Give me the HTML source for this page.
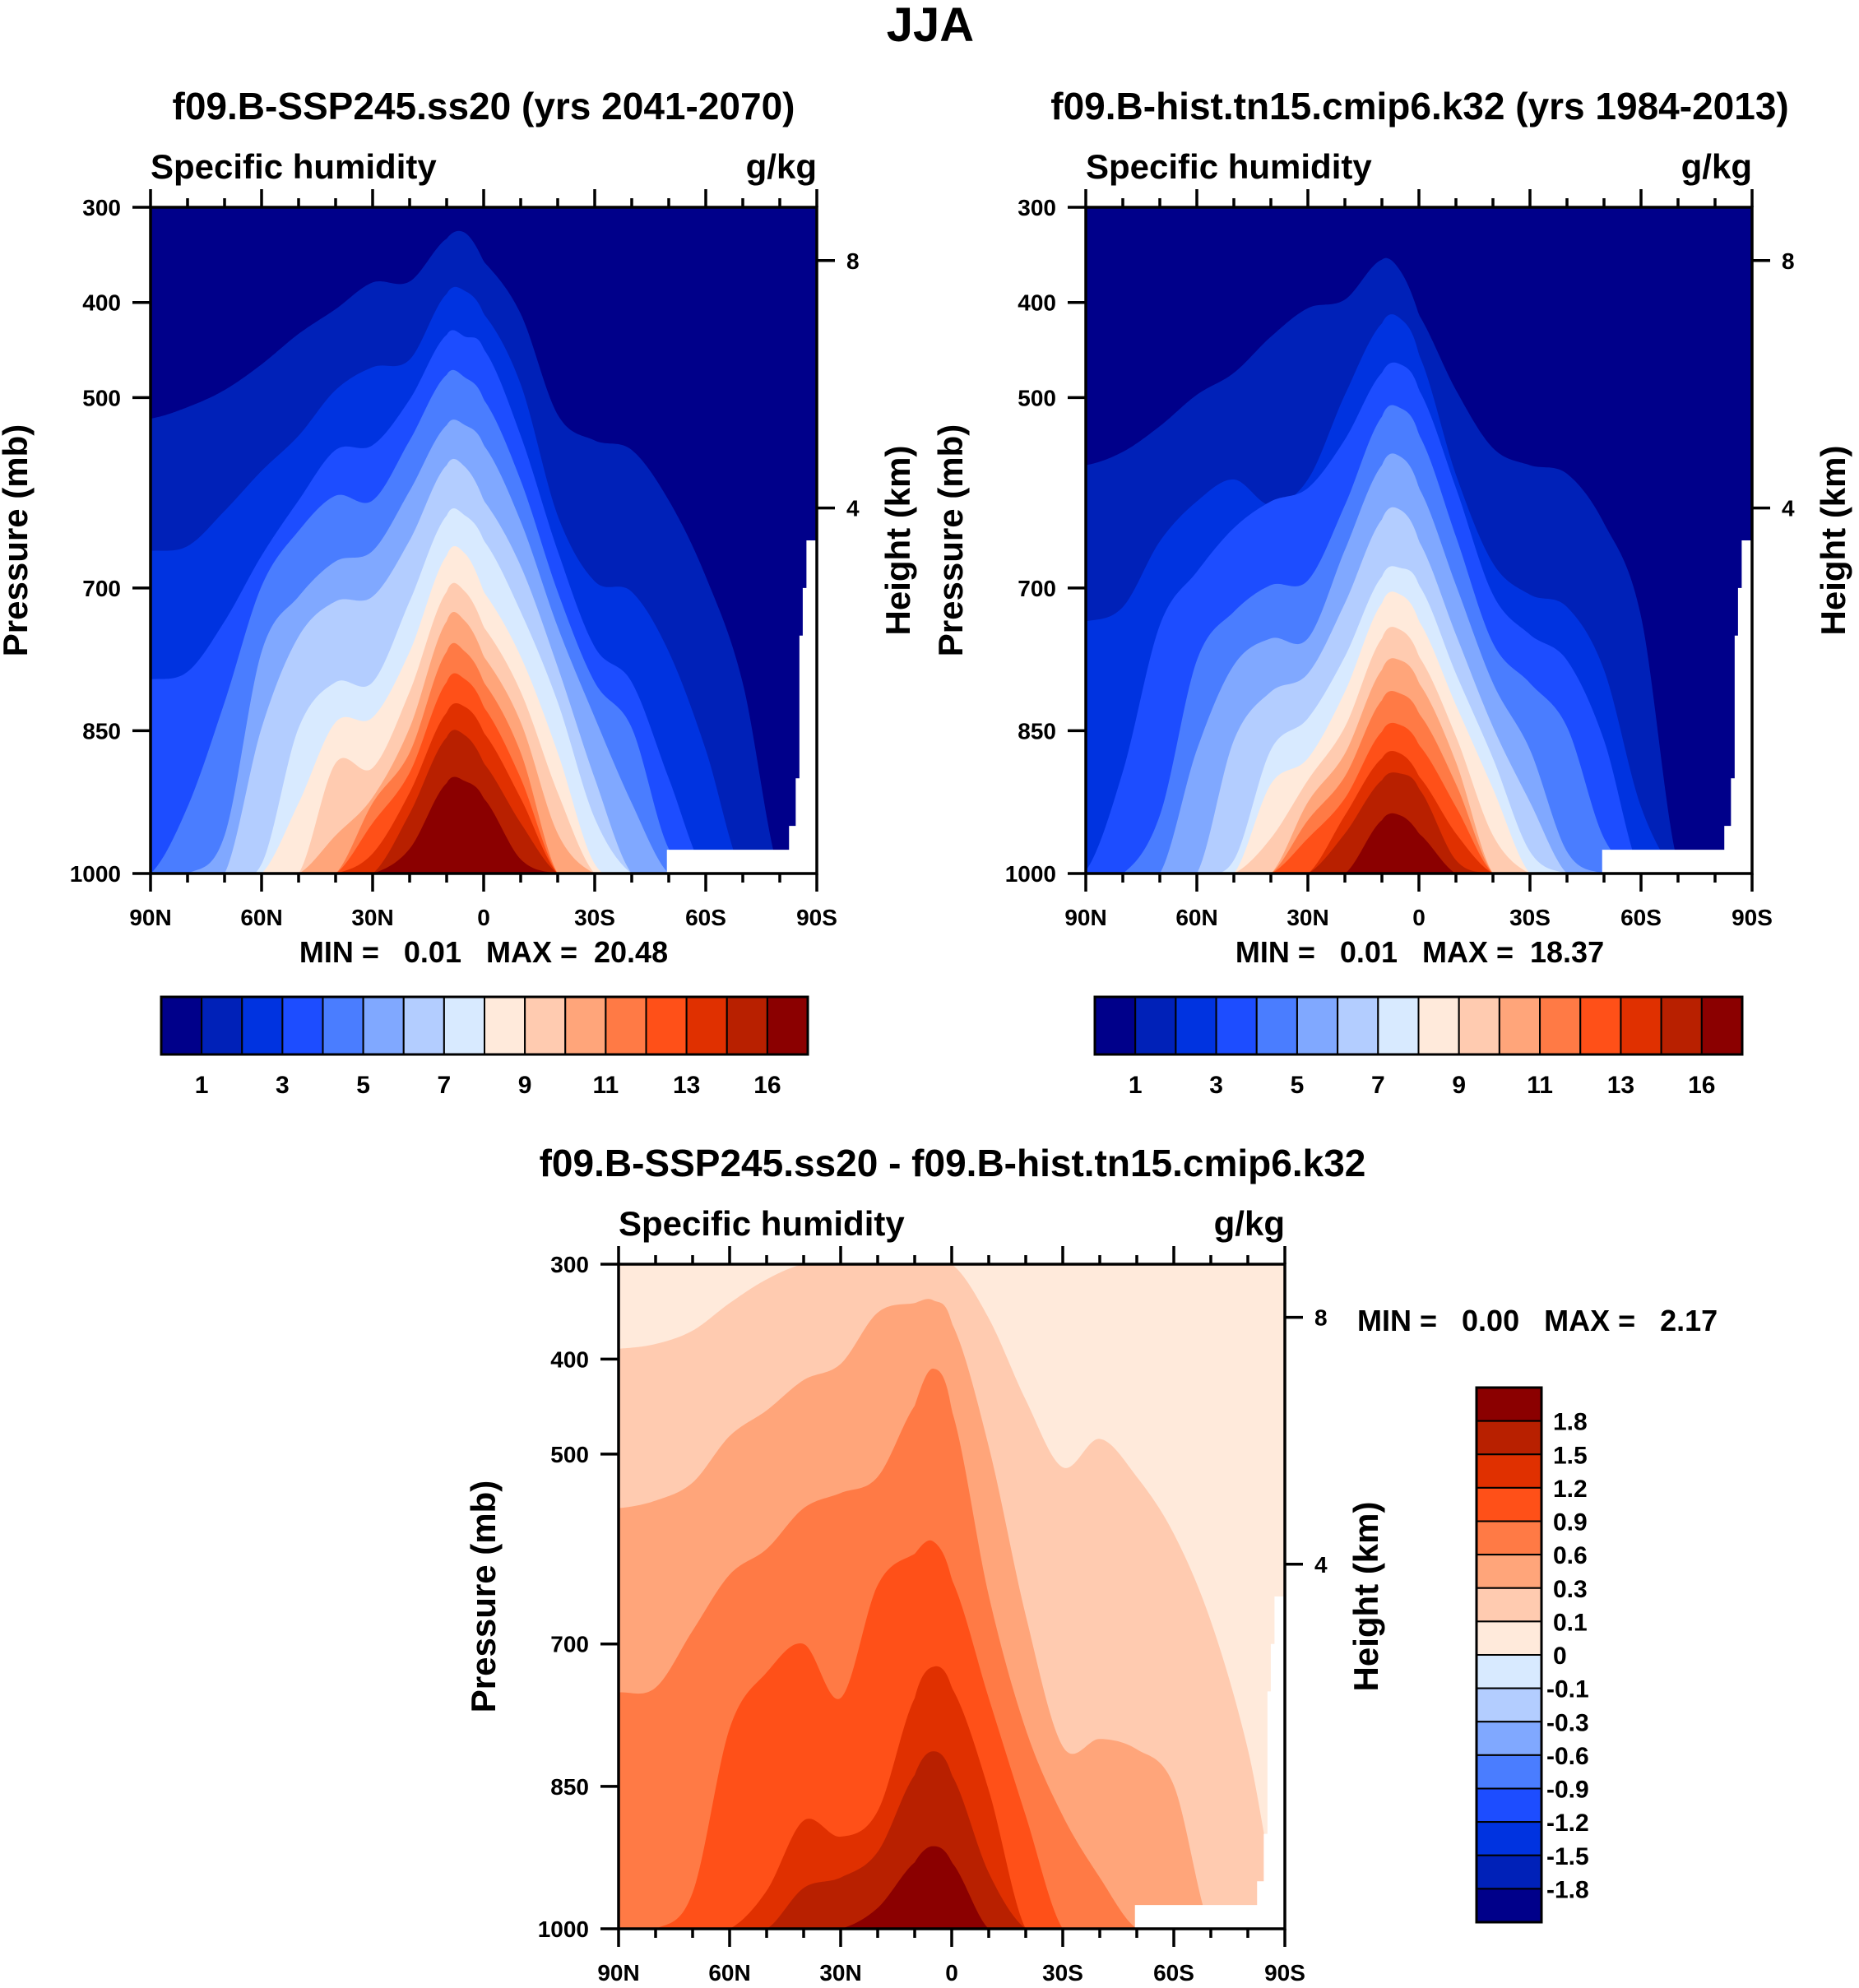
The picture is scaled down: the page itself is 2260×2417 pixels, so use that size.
<!DOCTYPE html>
<html><head><meta charset="utf-8"><style>
html,body{margin:0;padding:0;background:#fff}
svg{display:block}
text{font-family:"Liberation Sans",sans-serif;font-weight:bold;fill:#000}
</style></head><body>
<svg id="fig" width="2260" height="2417" viewBox="0 0 2260 2417" xmlns="http://www.w3.org/2000/svg">
<text x="1131" y="50" font-size="58" text-anchor="middle">JJA</text>
</svg>
<script>
// ---- data ----
const lats = [90,80,70,60,50,40,30,20,10,5,0,-10,-20,-30,-40,-50,-60,-70,-80,-90];
const qLevels = [1,2,3,4,5,6,7,8,9,10,11,12,13,14,16];
const qTickLabels = ["1","3","5","7","9","11","13","16"];
const dLevels = [-1.8,-1.5,-1.2,-0.9,-0.6,-0.3,-0.1,0,0.1,0.3,0.6,0.9,1.2,1.5,1.8];
const dTickLabels = ["1.8","1.5","1.2","0.9","0.6","0.3","0.1","0","-0.1","-0.3","-0.6","-0.9","-1.2","-1.5","-1.8"];
const colors16 = ["#00008a","#0021b8","#0033e0","#1d4dff","#4a7dff","#80a8ff","#b3cdff","#d8eaff","#ffeadb","#ffcbb0","#ffa57a","#ff7a45","#ff5018","#e03000","#b82000","#8b0000"];
const surfLats = [-49.5,-82.5,-84.3,-85.3,-86.2,-87.2,-90];
const surfP = [975,950,900,750,700,650,650];

// SSP245 pressure of each contour level per latitude
const ssp1  = [522,510,492,465,433,407,379,378,333,327,357,412,518,545,555,608,688,800,1000,1000];
const ssp2  = [661,656,619,577,540,492,468,460,391,388,412,486,624,693,704,767,870,1000,1000,1000];
const ssp3  = [796,788,735,666,608,555,550,502,434,436,449,540,661,762,799,900,1000,1000,1000,1000];
const ssp4  = [1000,930,820,698,640,603,608,545,476,479,502,587,704,799,847,974,1000,1000,1000,1000];
const ssp5  = [1000,1000,960,767,709,672,661,598,529,529,550,630,741,836,926,1000,1000,1000,1000,1000];
const ssp6  = [1000,1000,1000,847,751,714,709,650,571,573,608,677,783,900,1000,1000,1000,1000,1000,1000];
const ssp7  = [1000,1000,1000,990,847,799,799,714,624,624,650,725,820,942,1000,1000,1000,1000,1000,1000];
const ssp8  = [1000,1000,1000,1000,926,841,836,767,666,664,704,772,873,990,1000,1000,1000,1000,1000,1000];
const ssp9  = [1000,1000,1000,1000,1000,884,889,809,704,704,741,809,915,1000,1000,1000,1000,1000,1000,1000];
const ssp10 = [1000,1000,1000,1000,1000,960,920,847,735,735,772,841,958,1000,1000,1000,1000,1000,1000,1000];
const ssp11 = [1000,1000,1000,1000,1000,1000,926,873,767,767,799,873,1000,1000,1000,1000,1000,1000,1000,1000];
const ssp12 = [1000,1000,1000,1000,1000,1000,947,894,799,796,825,900,1000,1000,1000,1000,1000,1000,1000,1000];
const ssp13 = [1000,1000,1000,1000,1000,1000,979,915,831,825,852,921,1000,1000,1000,1000,1000,1000,1000,1000];
const ssp14 = [1000,1000,1000,1000,1000,1000,1000,937,857,855,884,947,1000,1000,1000,1000,1000,1000,1000,1000];
const ssp16 = [1000,1000,1000,1000,1000,1000,1000,974,905,903,921,985,1000,1000,1000,1000,1000,1000,1000,1000];

// historical
const hist1  = [571,557,530,497,474,436,406,397,355,367,413,492,553,571,580,632,730,990,1000,1000];
const hist2  = [735,720,651,609,586,613,586,497,422,417,455,581,674,707,720,786,930,1000,1000,1000];
const hist3  = [997,893,739,683,637,609,595,544,474,465,492,595,707,749,776,860,1000,1000,1000,1000];
const hist4  = [1000,1000,939,776,725,697,692,613,520,511,539,646,758,800,846,963,1000,1000,1000,1000];
const hist5  = [1000,1000,1000,870,781,753,753,660,571,562,595,697,800,870,977,1000,1000,1000,1000,1000];
const hist6  = [1000,1000,1000,1000,860,809,790,716,628,618,651,749,846,925,1000,1000,1000,1000,1000,1000];
const hist7  = [1000,1000,1000,1000,986,870,837,772,688,679,697,790,879,977,1000,1000,1000,1000,1000,1000];
const hist8  = [1000,1000,1000,1000,1000,906,879,809,716,707,735,823,911,1000,1000,1000,1000,1000,1000,1000];
const hist9  = [1000,1000,1000,1000,1000,963,902,846,753,744,772,856,960,1000,1000,1000,1000,1000,1000,1000];
const hist10 = [1000,1000,1000,1000,1000,1000,925,874,786,776,800,883,1000,1000,1000,1000,1000,1000,1000,1000];
const hist11 = [1000,1000,1000,1000,1000,1000,944,898,818,811,832,906,1000,1000,1000,1000,1000,1000,1000,1000];
const hist12 = [1000,1000,1000,1000,1000,1000,963,921,851,844,865,930,1000,1000,1000,1000,1000,1000,1000,1000];
const hist13 = [1000,1000,1000,1000,1000,1000,1000,939,879,874,898,958,1000,1000,1000,1000,1000,1000,1000,1000];
const hist14 = [1000,1000,1000,1000,1000,1000,1000,958,902,895,911,986,1000,1000,1000,1000,1000,1000,1000,1000];
const hist16 = [1000,1000,1000,1000,1000,1000,1000,1000,944,939,958,1000,1000,1000,1000,1000,1000,1000,1000,1000];

// difference (levels 0.1 ... 1.8)
const diff01 = [389,384,370,341,316,300,300,300,300,300,300,357,443,514,484,524,584,676,811,1000];
const diff03 = [557,549,530,481,454,422,405,351,341,338,362,492,670,808,800,811,849,1000,1000,1000];
const diff06 = [751,746,686,627,600,557,541,524,449,410,454,649,790,881,946,1000,1000,1000,1000,1000];
const diff09 = [1000,1000,962,789,730,700,757,638,605,592,632,757,881,1000,1000,1000,1000,1000,1000,1000];
const diff12 = [1000,1000,1000,1000,960,886,903,876,757,724,746,854,1000,1000,1000,1000,1000,1000,1000,1000];
const diff15 = [1000,1000,1000,1000,1000,957,946,919,838,813,838,941,1000,1000,1000,1000,1000,1000,1000,1000];
const diff18 = [1000,1000,1000,1000,1000,1000,1000,978,930,913,930,1000,1000,1000,1000,1000,1000,1000,1000,1000];

const sspCurves = [ssp1,ssp2,ssp3,ssp4,ssp5,ssp6,ssp7,ssp8,ssp9,ssp10,ssp11,ssp12,ssp13,ssp14,ssp16];
const histCurves = [hist1,hist2,hist3,hist4,hist5,hist6,hist7,hist8,hist9,hist10,hist11,hist12,hist13,hist14,hist16];
const diffCurves = [diff01,diff03,diff06,diff09,diff12,diff15,diff18];

const pTicks = [300,400,500,700,850,1000];
const latTicks = [90,60,30,0,-30,-60,-90];
const latTickLabels = ["90N","60N","30N","0","30S","60S","90S"];
const hTickP = [356,616];
const hTickLabels = ["8","4"];

// ---- drawing ----
const NS = "http://www.w3.org/2000/svg";
const svg = document.getElementById('fig');
function mk(tag, attrs, parent){
  const e = document.createElementNS(NS, tag);
  for (const k in attrs) e.setAttribute(k, attrs[k]);
  (parent||svg).appendChild(e);
  return e;
}
function interp(arr, lat){
  let i = 0;
  while (i < lats.length-2 && lat < lats[i+1]) i++;
  const t = (lats[i]-lat)/(lats[i]-lats[i+1]);
  const p0 = arr[Math.max(i-1,0)], p1 = arr[i], p2 = arr[i+1], p3 = arr[Math.min(i+2,arr.length-1)];
  const t2=t*t, t3=t2*t;
  let v = 0.5*((2*p1)+(-p0+p2)*t+(2*p0-5*p1+4*p2-p3)*t2+(-p0+3*p1-3*p2+p3)*t3);
  const lo = Math.min(p1,p2), hi = Math.max(p1,p2);
  v = Math.max(lo - 15, Math.min(hi + 15, v));
  return Math.max(300, Math.min(1000, v));
}

function panel(P){
  const g = mk('g', {});
  
  
  const X = lat => P.x + (90-lat)/180*P.w;
  const Y = p => P.y + (p-300)/700*P.h;
  mk('rect',{x:P.x,y:P.y,width:P.w,height:P.h,fill:P.bg},g);
  P.curves.forEach((c, i) => {
    let d = 'M' + X(90) + ',' + Y(1000);
    for (let px = 0; px <= P.w; px += 2){
      const lat = 90 - px/P.w*180;
      d += ' L' + (P.x+px).toFixed(1) + ',' + Y(interp(c, lat)).toFixed(1);
    }
    d += ' L' + X(-90) + ',' + Y(1000) + ' Z';
    const path = mk('path',{d:d,fill:P.fills[i]},g);
    
    
  });
  let md = 'M' + X(surfLats[0]) + ',' + Y(1000);
  for (let i = 0; i < surfLats.length-1; i++){
    md += ' L' + X(surfLats[i]) + ',' + Y(surfP[i]) + ' L' + X(surfLats[i+1]) + ',' + Y(surfP[i]);
  }
  md += ' L' + X(-90) + ',' + Y(1000) + ' Z';
  const mask = mk('path',{d:md,fill:'#fff'},g);
  
  
  mk('rect',{x:P.x,y:P.y,width:P.w,height:P.h,fill:'none',stroke:'#000','stroke-width':3.5},g);
  for (let lat = 90; lat >= -90; lat -= 10){
    const major = lat % 30 === 0;
    const L = major ? 22 : 11;
    mk('line',{x1:X(lat),x2:X(lat),y1:P.y,y2:P.y-L,stroke:'#000','stroke-width':3.5},g);
    mk('line',{x1:X(lat),x2:X(lat),y1:P.y+P.h,y2:P.y+P.h+L,stroke:'#000','stroke-width':3.5},g);
  }
  latTicks.forEach((lat,i) => {
    const t = mk('text',{x:X(lat),y:P.y+P.h+63,'font-size':28,'text-anchor':'middle'},g);
    t.textContent = latTickLabels[i];
    
    
  });
  pTicks.forEach(p => {
    mk('line',{x1:P.x,x2:P.x-22,y1:Y(p),y2:Y(p),stroke:'#000','stroke-width':3.5},g);
    const t = mk('text',{x:P.x-36,y:Y(p)+10,'font-size':28,'text-anchor':'end'},g);
    t.textContent = p;
    
    
  });
  hTickP.forEach((p,i) => {
    mk('line',{x1:P.x+P.w,x2:P.x+P.w+22,y1:Y(p),y2:Y(p),stroke:'#000','stroke-width':3.5},g);
    const t = mk('text',{x:P.x+P.w+36,y:Y(p)+10,'font-size':28},g);
    t.textContent = hTickLabels[i];
    
    
  });
  const yl = mk('text',{x:0,y:0,'font-size':42,'text-anchor':'middle',transform:`translate(${P.x-150},${P.y+P.h/2}) rotate(-90)`},g);
  yl.textContent = 'Pressure (mb)';
  
  
  const hl = mk('text',{x:0,y:0,'font-size':42,'text-anchor':'middle',transform:`translate(${P.x+P.w+113},${P.y+P.h/2}) rotate(-90)`},g);
  hl.textContent = 'Height (km)';
  
  
  const sh = mk('text',{x:P.x,y:P.y-35,'font-size':42},g);
  sh.textContent = 'Specific humidity';
  
  
  const un = mk('text',{x:P.x+P.w,y:P.y-35,'font-size':42,'text-anchor':'end'},g);
  un.textContent = 'g/kg';
  
  
  const ti = mk('text',{x:P.tx,y:P.ty,'font-size':46,'text-anchor':'middle'},g);
  ti.textContent = P.title;
  
  
  const mm = mk('text',{x:P.mx,y:P.my,'font-size':36,'text-anchor':P.manchor,style:'white-space:pre'},g);
  mm.textContent = P.minmax;
  
  
}

function hbar(x0, y0, w, h, name){
  const g = mk('g',{});
  
  
  const bw = w/colors16.length;
  colors16.forEach((c,i) => {
    const r = mk('rect',{x:x0+i*bw,y:y0,width:bw,height:h,fill:c,stroke:'#000','stroke-width':2},g);
    
    
  });
  mk('rect',{x:x0,y:y0,width:w,height:h,fill:'none',stroke:'#000','stroke-width':3},g);
  qTickLabels.forEach((lab,i) => {
    const t = mk('text',{x:x0+(2*i+1)*bw,y:y0+h+47,'font-size':30,'text-anchor':'middle'},g);
    t.textContent = lab;
    
    
  });
}

panel({name:'ssp245-panel',x:183,y:252,w:810,h:810,curves:sspCurves,fills:colors16.slice(1),bg:colors16[0],
  title:'f09.B-SSP245.ss20 (yrs 2041-2070)',tx:588,ty:145,minmax:'MIN =   0.01   MAX =  20.48',mx:588,my:1170,manchor:'middle'});
panel({name:'hist-panel',x:1320,y:252,w:810,h:810,curves:histCurves,fills:colors16.slice(1),bg:colors16[0],
  title:'f09.B-hist.tn15.cmip6.k32 (yrs 1984-2013)',tx:1726,ty:145,minmax:'MIN =   0.01   MAX =  18.37',mx:1726,my:1170,manchor:'middle'});
hbar(196,1212,786,70,'colorbar-ssp245');
hbar(1331,1212,787,70,'colorbar-hist');
panel({name:'difference-panel',x:752,y:1537,w:810,h:808,curves:diffCurves,fills:colors16.slice(9),bg:colors16[8],
  title:'f09.B-SSP245.ss20 - f09.B-hist.tn15.cmip6.k32',tx:1158,ty:1430,minmax:'MIN =   0.00   MAX =   2.17',mx:1650,my:1618,manchor:'start'});

(function(){
  const g = mk('g',{});
  
  
  const x0 = 1795, y0 = 1687, w = 79, h = 650, bh = h/16;
  for (let i = 0; i < 16; i++){
    const r = mk('rect',{x:x0,y:y0+i*bh,width:w,height:bh,fill:colors16[15-i],stroke:'#000','stroke-width':2},g);
    
    
  }
  mk('rect',{x:x0,y:y0,width:w,height:h,fill:'none',stroke:'#000','stroke-width':3},g);
  dTickLabels.forEach((lab,i) => {
    const t = mk('text',{x:x0+w+(lab[0]==='-'?6:14),y:y0+(i+1)*bh+11,'font-size':30},g);
    t.textContent = lab;
    
    
  });
})();
</script>
</body></html>
